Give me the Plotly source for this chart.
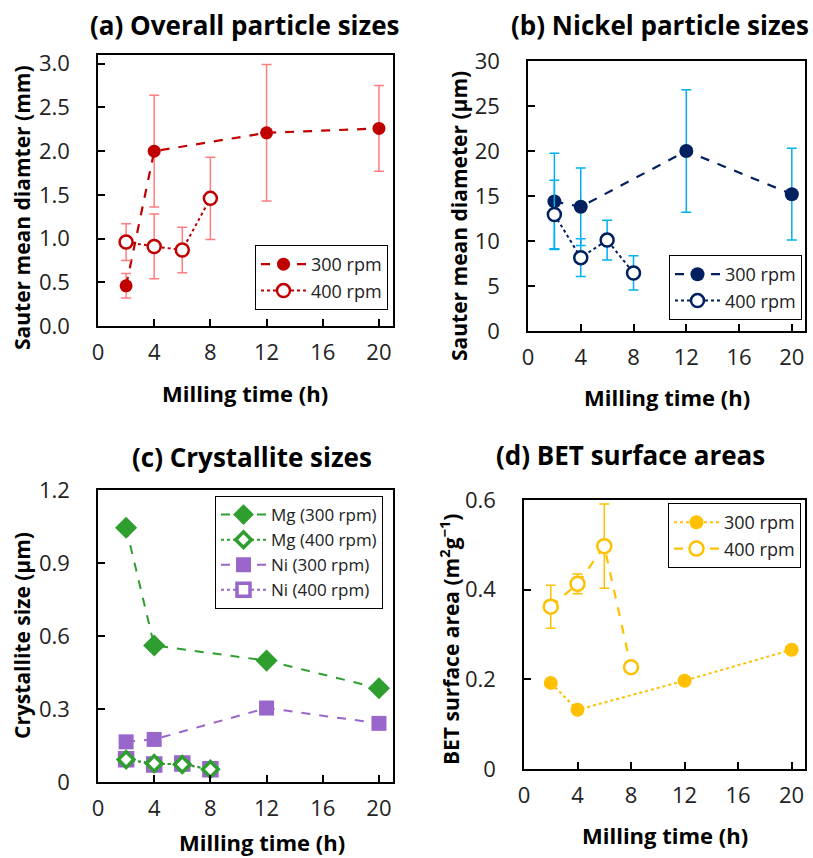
import plotly.graph_objects as go

# ---------------- data ----------------
# (a) overall particle sizes (mm)
a_x300 = [2, 4, 12, 20]
a_y300 = [0.46, 2.00, 2.21, 2.26]
a_e300 = [0.14, 0.64, 0.78, 0.49]
a_x400 = [2, 4, 6, 8]
a_y400 = [0.96, 0.91, 0.87, 1.46]
a_e400 = [0.21, 0.37, 0.26, 0.47]

# (b) nickel particle sizes (um)
b_x300 = [2, 4, 12, 20]
b_y300 = [14.4, 13.8, 20.0, 15.2]
b_e300 = [5.35, 4.3, 6.8, 5.1]
b_x400 = [2, 4, 6, 8]
b_y400 = [12.95, 8.15, 10.1, 6.45]
b_e400 = [3.8, 2.1, 2.2, 1.9]

# (c) crystallite sizes (um)
c_x300 = [2, 4, 12, 20]
c_mg300 = [1.045, 0.561, 0.499, 0.385]
c_ni300 = [0.165, 0.175, 0.304, 0.241]
c_x400 = [2, 4, 6, 8]
c_mg400 = [0.092, 0.076, 0.072, 0.052]
c_ni400 = [0.094, 0.072, 0.076, 0.052]

# (d) BET surface areas (m2/g)
d_x300 = [2, 4, 12, 20]
d_y300 = [0.192, 0.132, 0.197, 0.266]
d_x400 = [2, 4, 6, 8]
d_y400 = [0.362, 0.413, 0.497, 0.227]
d_e400 = [0.048, 0.022, 0.094, 0.010]

x_ticks = [0, 4, 8, 12, 16, 20]

titles = ["(a) Overall particle sizes", "(b) Nickel particle sizes",
          "(c) Crystallite sizes", "(d) BET surface areas"]
ytitles = ["Sauter mean diamter (mm)", "Sauter mean diameter (µm)",
           "Crystallite size (µm)", "BET surface area (m<sup>2</sup>g<sup>−1</sup>)"]
xtitle = "Milling time (h)"

# ---------------- style ----------------
W, H = 813, 858
FONT = "Open Sans"
RED, RED_E = "#C00000", "#FF7C80"
NAVY, BLUE_E = "#002060", "#00B0F0"
GREEN, PURPLE = "#2E9E2E", "#9966CC"
GOLD = "#FFC000"

def px(x):
    return x / W

def py(y):
    return 1 - y / H

# plot boxes in pixels (left, right, top, bottom)
boxes = [(98, 393, 55, 326), (528, 805, 61, 331),
         (98, 393, 490, 782), (524, 805, 500, 769)]

fig = go.Figure()

# (a)
fig.add_trace(go.Scatter(
    x=a_x300, y=a_y300, mode="lines+markers", name="300 rpm",
    line=dict(color=RED, width=2.2, dash="dash"),
    marker=dict(symbol="circle", size=13, color=RED),
    error_y=dict(type="data", array=a_e300, color=RED_E, thickness=1.5, width=5),
    xaxis="x", yaxis="y", legend="legend"))
fig.add_trace(go.Scatter(
    x=a_x400, y=a_y400, mode="lines+markers", name="400 rpm",
    line=dict(color=RED, width=2, dash="dot"),
    marker=dict(symbol="circle", size=13, color="white", line=dict(color=RED, width=2.5)),
    error_y=dict(type="data", array=a_e400, color=RED_E, thickness=1.5, width=5),
    xaxis="x", yaxis="y", legend="legend"))

# (b)
fig.add_trace(go.Scatter(
    x=b_x300, y=b_y300, mode="lines+markers", name="300 rpm",
    line=dict(color=NAVY, width=2.2, dash="dash"),
    marker=dict(symbol="circle", size=14, color=NAVY),
    error_y=dict(type="data", array=b_e300, color=BLUE_E, thickness=1.5, width=5),
    xaxis="x2", yaxis="y2", legend="legend2"))
fig.add_trace(go.Scatter(
    x=b_x400, y=b_y400, mode="lines+markers", name="400 rpm",
    line=dict(color=NAVY, width=2, dash="dot"),
    marker=dict(symbol="circle", size=13, color="white", line=dict(color=NAVY, width=2.5)),
    error_y=dict(type="data", array=b_e400, color=BLUE_E, thickness=1.5, width=5),
    xaxis="x2", yaxis="y2", legend="legend2"))

# (c)
fig.add_trace(go.Scatter(
    x=c_x300, y=c_mg300, mode="lines+markers", name="Mg (300 rpm)",
    line=dict(color=GREEN, width=2, dash="dash"),
    marker=dict(symbol="diamond", size=17, color=GREEN),
    xaxis="x3", yaxis="y3", legend="legend3", legendrank=1))
fig.add_trace(go.Scatter(
    x=c_x300, y=c_ni300, mode="lines+markers", name="Ni (300 rpm)",
    line=dict(color=PURPLE, width=2, dash="dash"),
    marker=dict(symbol="square", size=15, color=PURPLE),
    xaxis="x3", yaxis="y3", legend="legend3", legendrank=3))
fig.add_trace(go.Scatter(
    x=c_x400, y=c_ni400, mode="lines+markers", name="Ni (400 rpm)",
    line=dict(color=PURPLE, width=2, dash="dot"),
    marker=dict(symbol="square", size=13, color="white", line=dict(color=PURPLE, width=3.5)),
    xaxis="x3", yaxis="y3", legend="legend3", legendrank=4))
fig.add_trace(go.Scatter(
    x=c_x400, y=c_mg400, mode="lines+markers", name="Mg (400 rpm)",
    line=dict(color=GREEN, width=2, dash="dot"),
    marker=dict(symbol="diamond", size=12, color="white", line=dict(color=GREEN, width=3.5)),
    xaxis="x3", yaxis="y3", legend="legend3", legendrank=2))

# (d)
fig.add_trace(go.Scatter(
    x=d_x300, y=d_y300, mode="lines+markers", name="300 rpm",
    line=dict(color=GOLD, width=2, dash="dot"),
    marker=dict(symbol="circle", size=14, color=GOLD),
    xaxis="x4", yaxis="y4", legend="legend4"))
fig.add_trace(go.Scatter(
    x=d_x400, y=d_y400, mode="lines+markers", name="400 rpm",
    line=dict(color=GOLD, width=2.2, dash="dash"),
    marker=dict(symbol="circle", size=14, color="white", line=dict(color=GOLD, width=2.5)),
    error_y=dict(type="data", array=d_e400, color=GOLD, thickness=1.5, width=5),
    xaxis="x4", yaxis="y4", legend="legend4"))

# ---------------- axes ----------------
axis_common = dict(showline=True, linecolor="black", linewidth=1.5, mirror=True,
                   ticks="inside", ticklen=7, tickwidth=1.5, tickcolor="black",
                   showgrid=False, zeroline=False, automargin=False,
                   tickfont=dict(family=FONT, size=22, color="#222"))

yranges = [[0, 3.1], [0, 30], [0, 1.2], [0, 0.6]]
yticks = [
    ([0, 0.5, 1.0, 1.5, 2.0, 2.5, 3.0], ["0.0", "0.5", "1.0", "1.5", "2.0", "2.5", "3.0"]),
    ([0, 5, 10, 15, 20, 25, 30], ["0", "5", "10", "15", "20", "25", "30"]),
    ([0, 0.3, 0.6, 0.9, 1.2], ["0", "0.3", "0.6", "0.9", "1.2"]),
    ([0, 0.2, 0.4, 0.6], ["0", "0.2", "0.4", "0.6"]),
]

layout_axes = {}
for i, (l, r, t, b) in enumerate(boxes):
    sfx = "" if i == 0 else str(i + 1)
    layout_axes["xaxis" + sfx] = dict(
        axis_common, domain=[px(l), px(r)], range=[0, 21],
        tickvals=x_ticks, anchor="y" + sfx, ticklabelstandoff=6)
    layout_axes["yaxis" + sfx] = dict(
        axis_common, domain=[py(b), py(t)], range=yranges[i],
        tickvals=yticks[i][0], ticktext=yticks[i][1], anchor="x" + sfx,
        ticklabelstandoff=22)

# ---------------- annotations ----------------
ann = []
title_pos = [(245, 25), (660, 25), (252, 457), (630, 455)]
ytitle_pos = [(22, 208), (459, 216), (22, 636), (449, 639)]
xtitle_pos = [(245, 393), (667, 397), (262, 842), (665, 835)]
for i in range(4):
    ann.append(dict(text="<b>%s</b>" % titles[i], x=px(title_pos[i][0]), y=py(title_pos[i][1]),
                    xref="paper", yref="paper", xanchor="center", yanchor="middle",
                    showarrow=False, font=dict(family=FONT, size=26, color="black")))
    ann.append(dict(text="<b>%s</b>" % ytitles[i], x=px(ytitle_pos[i][0]), y=py(ytitle_pos[i][1]),
                    xref="paper", yref="paper", xanchor="center", yanchor="middle",
                    textangle=-90, showarrow=False,
                    font=dict(family=FONT, size=21, color="black")))
    ann.append(dict(text="<b>%s</b>" % xtitle, x=px(xtitle_pos[i][0]), y=py(xtitle_pos[i][1]),
                    xref="paper", yref="paper", xanchor="center", yanchor="middle",
                    showarrow=False, font=dict(family=FONT, size=22, color="black")))

leg_common = dict(bordercolor="black", borderwidth=1, bgcolor="white",
                  xanchor="right", yanchor="top", itemwidth=45, tracegroupgap=0)
leg_font = dict(family=FONT, size=18, color="#222")
leg_font_c = dict(family=FONT, size=17, color="#222")

fig.update_layout(
    width=W, height=H, margin=dict(l=0, r=0, t=0, b=0, pad=0, autoexpand=False),
    paper_bgcolor="white", plot_bgcolor="white",
    annotations=ann,
    legend=dict(leg_common, font=leg_font, x=px(388), y=py(245)),
    legend2=dict(leg_common, font=leg_font, x=px(802), y=py(255)),
    legend3=dict(leg_common, font=leg_font_c, x=px(383), y=py(496), traceorder="normal"),
    legend4=dict(leg_common, font=leg_font, x=px(801), y=py(503)),
    **layout_axes,
)

fig.write_html("out.html", config={"displayModeBar": False},
               post_script="document.body.style.margin='0';document.body.style.overflow='hidden';")
